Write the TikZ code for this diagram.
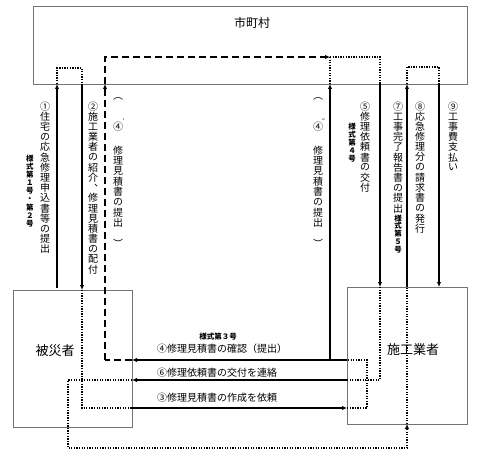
\documentclass[tikz,border=0pt]{standalone}
\usepackage{fontspec}
\setmainfont{Noto Sans CJK JP}
\usetikzlibrary{arrows.meta}
\ExplSyntaxOn
\NewDocumentCommand\vtext{O{10.2pt}m}{
  \vbox{\offinterlineskip
    \tl_map_inline:nn {#2} {\hbox to1em{\hss\vbox to#1{\vss\hbox{##1}\vss}\hss}}}
}
\ExplSyntaxOff
\tikzset{
  box/.style={draw=black!55, line width=0.8pt, inner sep=0pt},
  sol/.style={line width=1.4pt},
  dotl/.style={line width=1.3pt, dash pattern=on 1.3pt off 1.3pt},
  dsh/.style={line width=1.5pt, dash pattern=on 7pt off 4pt},
  arr/.style={-{Latex[length=5pt,width=4.5pt]}},
  vlab/.style={inner sep=0pt, anchor=north, font=\fontsize{10}{10}\selectfont},
  slab/.style={inner sep=0pt, anchor=north, font=\fontsize{7.5}{8}\selectfont\bfseries},
  hlab/.style={inner sep=0pt, anchor=west, font=\fontsize{10}{12}\selectfont},
  blab/.style={inner sep=0pt, font=\fontsize{13}{14}\selectfont},
  plab/.style={inner sep=0pt, font=\fontsize{10}{10}\selectfont},
  prm/.style={inner sep=0pt, font=\fontsize{6}{6}\selectfont},
}
\begin{document}
\begin{tikzpicture}[x=1pt,y=-1pt]
\useasboundingbox (0,0) rectangle (480,460);
% boxes
\node[box, minimum width=434pt, minimum height=78pt, anchor=north west] (city) at (33,6) {};
\node[box, minimum width=119pt, minimum height=137pt, anchor=north west] (vic) at (13,290) {};
\node[box, minimum width=120pt, minimum height=137pt, anchor=north west] (con) at (347,287) {};
\node[blab, font=\fontsize{12}{14}\selectfont] (cityl) at (252,23) {市町村};
\node[blab] (vicl) at (55,351) {被災者};
\node[blab] (conl) at (413,350) {施工業者};
% vertical labels
\node[vlab] (t1) at (45,101) {\vtext{①住宅の応急修理申込書等の提出}};
\node[slab] (s12) at (30,154) {\vtext[8.2pt]{様式第１号・第２号}};
\node[vlab] (t2) at (93,101) {\vtext{②施工業者の紹介︑修理見積書の配付}};
\node[plab] (p4la) at (118,99) {︵};
\node[plab] (n4l) at (118,127) {④};
\node[prm] (n4lp) at (123.5,121) {′};
\node[vlab] (t4l) at (118,145) {\vtext[10.4pt]{修理見積書の提出}};
\node[plab] (p4lb) at (118,243) {︶};
\node[plab] (p4ra) at (318,99) {︵};
\node[plab] (n4r) at (318,127) {④};
\node[prm] (n4rp) at (323.5,121) {″};
\node[vlab] (t4r) at (318,145) {\vtext[10.4pt]{修理見積書の提出}};
\node[plab] (p4rb) at (318,243) {︶};
\node[vlab] (t5) at (365,101) {\vtext{⑤修理依頼書の交付}};
\node[slab] (s4) at (352,123) {\vtext[7.9pt]{様式第４号}};
\node[vlab] (t7) at (398,101) {\vtext{⑦工事完了報告書の提出}};
\node[slab] (s5) at (398,214) {\vtext[7.9pt]{様式第５号}};
\node[vlab] (t8) at (420,101) {\vtext{⑧応急修理分の請求書の発行}};
\node[vlab] (t9) at (453,101) {\vtext{⑨工事費支払い}};
% horizontal labels
\node[slab, anchor=center] (s3) at (218,337) {様式第３号};
\node[hlab] (h4) at (157,349) {④修理見積書の確認（提出）};
\node[hlab] (h6) at (157,373) {⑥修理依頼書の交付を連絡};
\node[hlab] (h3) at (157,398) {③修理見積書の作成を依頼};
% coordinates
\coordinate (c1a) at (57,288);
\coordinate (c1b) at (57,84);
\coordinate (c1c) at (57,68);
\coordinate (c1d) at (82,68);
\coordinate (c2a) at (82,84);
\coordinate (c2b) at (82,290);
\coordinate (c2c) at (82,408);
\coordinate (c3a) at (132,408);
\coordinate (c3b) at (347,408);
\coordinate (c3c) at (367,408);
\coordinate (c3d) at (367,360);
\coordinate (c4a) at (347,360);
\coordinate (c4b) at (132,360);
\coordinate (c4c) at (105,360);
\coordinate (c4d) at (105,84);
\coordinate (c4e) at (105,57);
\coordinate (c4f) at (330,57);
\coordinate (c4g) at (330,84);
\coordinate (c4h) at (330,360);
\coordinate (c4i) at (380,57);
\coordinate (c5a) at (380,84);
\coordinate (c5b) at (380,287);
\coordinate (c5c) at (380,380);
\coordinate (c6a) at (347,380);
\coordinate (c6b) at (132,380);
\coordinate (c6c) at (68,380);
\coordinate (c6d) at (68,448);
\coordinate (c6e) at (407,448);
\coordinate (c7a) at (407,424);
\coordinate (c7b) at (407,287);
\coordinate (c7c) at (407,84);
\coordinate (c7d) at (407,67);
\coordinate (c9a) at (439,67);
\coordinate (c9b) at (439,84);
\coordinate (c9c) at (439,287);
% ①②
\draw[sol, arr] (c1a) -- (c1b);
\draw[dotl] (c1b) -- (c1c) -- (c1d) -- (c2a);
\draw[sol, arr] (c2a) -- (c2b);
\draw[dotl] (c2b) -- (c2c) -- (c3a);
% ③
\draw[sol, arr] (c3a) -- (c3b);
\draw[dotl] (c3b) -- (c3c) -- (c3d) -- (c4a);
% ④
\draw[sol, arr] (c4a) -- (c4b);
\draw[sol, arr] (c4h) -- (c4g);
\draw[dsh] (c4b) -- (c4c);
\draw[dsh, arr] (c4c) -- (c4d);
\draw[dsh, arr] (c4d) -- (c4e) -- (c4f);
\draw[dotl] (c4f) -- (c4g);
\draw[dotl] (c4f) -- (c4i) -- (c5a);
% ⑤⑥
\draw[sol, arr] (c5a) -- (c5b);
\draw[dotl] (c5b) -- (c5c) -- (c6a);
\draw[sol, arr] (c6a) -- (c6b);
\draw[dotl, arr] (c6b) -- (c6c) -- (c6d) -- (c6e) -- (c7a);
% ⑦⑨
\draw[dotl] (c7a) -- (c7b);
\draw[sol, arr] (c7b) -- (c7c);
\draw[dotl] (c7c) -- (c7d) -- (c9a) -- (c9b);
\draw[sol, arr] (c9b) -- (c9c);
\end{tikzpicture}
\end{document}
